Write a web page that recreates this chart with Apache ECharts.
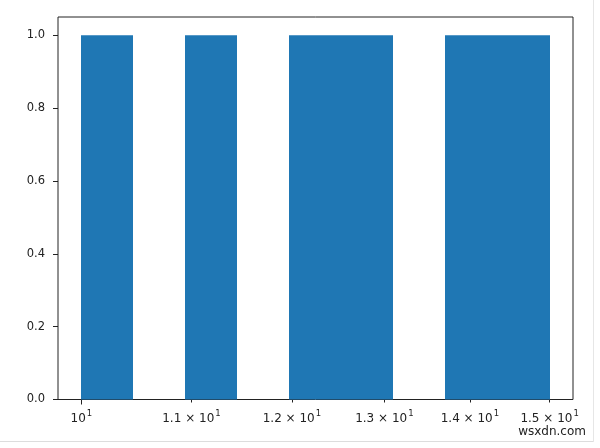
<!DOCTYPE html>
<html>
<head>
<meta charset="utf-8">
<script src="https://cdn.jsdelivr.net/npm/echarts@6/dist/echarts.min.js"></script>
<style>
  html, body { margin: 0; padding: 0; background: #fff; }
  #chart { width: 600px; height: 448px; }
</style>
</head>
<body>
<div id="chart"></div>
<script>
// histogram bins (log spaced edges) and counts
var binEdges = [10, 10.461, 10.942, 11.447, 11.974, 12.525, 13.102, 13.706, 14.337, 15];
var counts = [1, 0, 1, 0, 1, 1, 0, 1, 1];
var majorTicks = [10];
var minorTicks = [11, 12, 13, 14, 15];
var xTickLabels = [10, 11, 12, 13, 14, 15];
var yTicks = [0, 0.2, 0.4, 0.6, 0.8, 1.0];

var barData = [];
for (var i = 0; i < counts.length; i++) {
    barData.push([binEdges[i], binEdges[i + 1], counts[i]]);
}

var textColor = '#222';
var font = 'DejaVu Sans';

function xLabel(v) {
    if (Math.abs(v - 10) < 1e-6) {
        return '{b|10}{s|1}';
    }
    return '{b|' + (v / 10).toFixed(1) + ' × 10}{s|1}';
}

var myChart = echarts.init(document.getElementById('chart'));

var option = {
    backgroundColor: '#fff',
    animation: false,
    grid: {
        left: 58,
        right: 27,
        top: 17,
        bottom: 48.5,
        show: true,
        borderColor: textColor,
        borderWidth: 1
    },
    xAxis: [
        {
            type: 'log',
            logBase: 10,
            min: 9.7994,
            max: 15.307,
            axisLine: {show: false},
            splitLine: {show: false},
            axisTick: {
                show: true,
                customValues: majorTicks,
                length: 5,
                lineStyle: {color: textColor}
            },
            axisLabel: {
                customValues: xTickLabels,
                margin: 10,
                formatter: xLabel,
                rich: {
                    b: {fontFamily: font, fontSize: 12, color: textColor, lineHeight: 15, verticalAlign: 'bottom'},
                    s: {fontFamily: font, fontSize: 8.5, color: textColor, lineHeight: 9, verticalAlign: 'top', padding: [0, 0, 0, 1]}
                }
            }
        },
        {
            type: 'log',
            logBase: 10,
            min: 9.7994,
            max: 15.307,
            position: 'bottom',
            axisLine: {show: false},
            splitLine: {show: false},
            axisTick: {
                show: true,
                customValues: minorTicks,
                length: 3,
                lineStyle: {color: textColor}
            },
            axisLabel: {show: false}
        }
    ],
    yAxis: {
        type: 'value',
        min: 0,
        max: 1.05,
        axisLine: {show: false},
        splitLine: {show: false},
        axisTick: {
            show: true,
            customValues: yTicks,
            length: 5,
            lineStyle: {color: textColor}
        },
        axisLabel: {
            customValues: yTicks,
            margin: 13,
            fontFamily: font,
            fontSize: 11.5,
            color: textColor,
            formatter: function (v) { return v.toFixed(1); }
        }
    },
    series: [
        {
            type: 'custom',
            xAxisIndex: 0,
            data: barData,
            encode: {x: [0, 1], y: 2},
            renderItem: function (params, api) {
                var p0 = api.coord([api.value(0), 0]);
                var p1 = api.coord([api.value(1), api.value(2)]);
                var x0 = Math.round(p0[0]);
                var x1 = Math.round(p1[0]);
                return {
                    type: 'rect',
                    shape: {x: x0, y: p1[1], width: x1 - x0, height: p0[1] - p1[1]},
                    style: {fill: '#1f77b4'}
                };
            }
        }
    ],
    graphic: [
        {
            type: 'text',
            right: 14,
            top: 426,
            style: {text: 'wsxdn.com', fontFamily: font, fontSize: 12, fill: textColor}
        },
        {
            type: 'rect',
            shape: {x: 0, y: 441, width: 593, height: 1},
            style: {fill: '#ddd'}
        },
        {
            type: 'rect',
            shape: {x: 593, y: 0, width: 1, height: 442},
            style: {fill: '#e6e6e6'}
        }
    ]
};

myChart.setOption(option);
</script>
</body>
</html>
